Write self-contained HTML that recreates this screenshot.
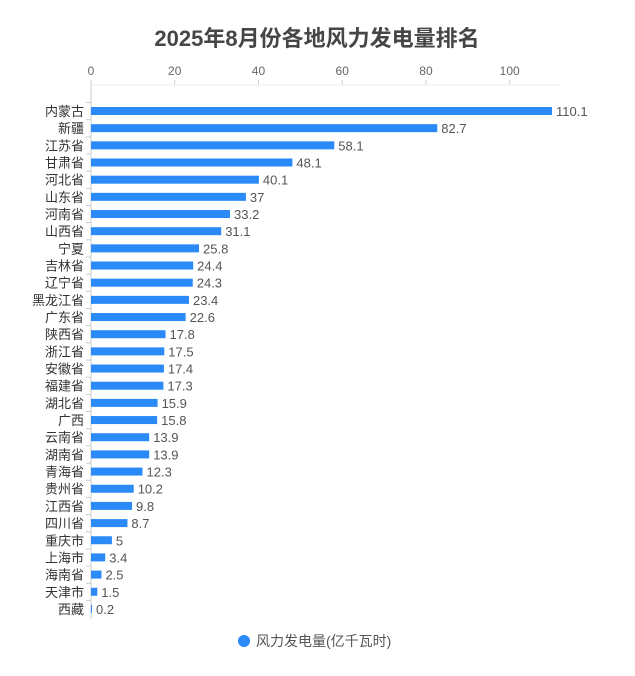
<!DOCTYPE html>
<html><head><meta charset="utf-8"><style>
html,body{margin:0;padding:0;background:#fff;}
svg{display:block;font-family:"Liberation Sans","Noto Sans CJK SC",sans-serif;}
</style></head><body>
<svg width="635" height="676" viewBox="0 0 635 676" xmlns="http://www.w3.org/2000/svg">
<text x="317" y="46" text-anchor="middle" font-size="22" font-weight="bold" fill="#464646">2025年8月份各地风力发电量排名</text>
<g id="chart"></g>
<circle cx="244" cy="641" r="6" fill="#2a8af8"/>
<text x="256" y="646" font-size="14" fill="#555">风力发电量(亿千瓦时)</text>
</svg>
<script>
var d=[["内蒙古",110.1],["新疆",82.7],["江苏省",58.1],["甘肃省",48.1],["河北省",40.1],["山东省",37],["河南省",33.2],["山西省",31.1],["宁夏",25.8],["吉林省",24.4],["辽宁省",24.3],["黑龙江省",23.4],["广东省",22.6],["陕西省",17.8],["浙江省",17.5],["安徽省",17.4],["福建省",17.3],["湖北省",15.9],["广西",15.8],["云南省",13.9],["湖南省",13.9],["青海省",12.3],["贵州省",10.2],["江西省",9.8],["四川省",8.7],["重庆市",5],["上海市",3.4],["海南省",2.5],["天津市",1.5],["西藏",0.2]];
var x0=91,k=4.187,y0=111,s=17.17,h='';
h+='<line x1="'+x0+'" y1="85" x2="'+x0+'" y2="619" stroke="#ccc"/>';
for(var t=0;t<=100;t+=20){var x=x0+t*k;h+='<text x="'+x+'" y="75" text-anchor="middle" font-size="12" fill="#666">'+t+'</text><line x1="'+x+'" y1="80" x2="'+x+'" y2="85" stroke="#ccc"/>';}
h+='<line x1="'+x0+'" y1="85" x2="560" y2="85" stroke="#eee"/>';
for(var i=0;i<d.length;i++){var y=y0+i*s,w=Math.max(d[i][1]*k,1);
h+='<line x1="86" y1="'+(y-8.5)+'" x2="91" y2="'+(y-8.5)+'" stroke="#ccc"/>';
h+='<rect x="'+x0+'" y="'+(y-4)+'" width="'+w+'" height="8" fill="#2a8af8"/>';
h+='<text x="84" y="'+(y+5)+'" text-anchor="end" font-size="13" fill="#333">'+d[i][0]+'</text>';
h+='<text x="'+(x0+w+4)+'" y="'+(y+5)+'" font-size="13" fill="#555">'+d[i][1]+'</text>';}
document.getElementById('chart').innerHTML=h;
</script>
</body></html>
